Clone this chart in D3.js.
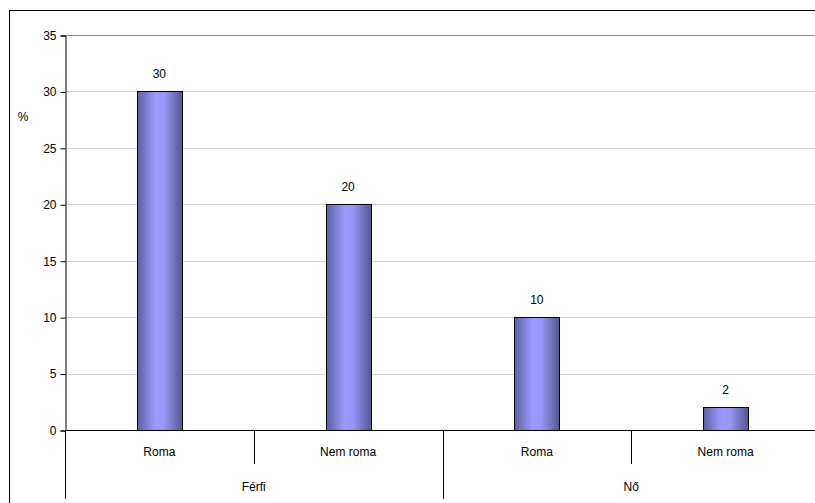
<!DOCTYPE html>
<html>
<head>
<meta charset="utf-8">
<script src="https://cdn.jsdelivr.net/npm/d3@7/dist/d3.min.js"></script>
<style>
  html, body { margin: 0; padding: 0; background: #fff; }
  svg { display: block; }
  text { font-family: "Liberation Sans", Arial, sans-serif; fill: #000; }
</style>
</head>
<body>
<svg id="chart" width="815" height="503"></svg>
<script>
// Data
const groups = ["Férfi", "Nő"];
const subCategories = ["Roma", "Nem roma"];
const values = [30, 20, 10, 2];          // Férfi: Roma, Nem roma; Nő: Roma, Nem roma
const yTicks = [0, 5, 10, 15, 20, 25, 30, 35];

const svg = d3.select("#chart");
const W = 815, H = 503;
const plot = { left: 65, right: 820, top: 35, bottom: 430 };

// Outer frame
svg.append("rect")
  .attr("x", 9.5).attr("y", 10.5)
  .attr("width", 830).attr("height", 520)
  .attr("fill", "#fff").attr("stroke", "#000").attr("stroke-width", 1);

// Gradient for bars
const defs = svg.append("defs");
const grad = defs.append("linearGradient")
  .attr("id", "barGrad").attr("x1", "0%").attr("x2", "100%").attr("y1", "0%").attr("y2", "0%");
grad.append("stop").attr("offset", "0%").attr("stop-color", "#5f5fa6");
grad.append("stop").attr("offset", "40%").attr("stop-color", "#9a9aff");
grad.append("stop").attr("offset", "60%").attr("stop-color", "#9696f5");
grad.append("stop").attr("offset", "100%").attr("stop-color", "#55558f");

// Scales
const cats = [];
groups.forEach(g => subCategories.forEach(s => cats.push(g + "|" + s)));
const x = d3.scaleBand().domain(cats).range([plot.left, plot.right]).paddingInner(0).paddingOuter(0);
const y = d3.scaleLinear().domain([0, 35]).range([plot.bottom, plot.top]);
const barW = 45;

// Gridlines
svg.append("g").selectAll("line")
  .data(yTicks.filter(t => t > 0))
  .join("line")
  .attr("x1", plot.left).attr("x2", plot.right)
  .attr("y1", d => Math.round(y(d)) + 0.5).attr("y2", d => Math.round(y(d)) + 0.5)
  .attr("stroke", d => d === 35 ? "#8c8c8c" : "#d4d4d4")
  .attr("stroke-width", 1);

// Y axis
const yAxis = d3.axisLeft(y).tickValues(yTicks).tickSize(5).tickPadding(4);
const yg = svg.append("g").attr("transform", `translate(${plot.left + 0.5},0.5)`).call(yAxis);
yg.select(".domain").attr("stroke", "#000");
yg.selectAll(".tick line").attr("stroke", "#000");
yg.selectAll(".tick text").attr("font-size", 12).attr("fill", "#000")
  .style("font-family", "'Liberation Sans', Arial, sans-serif");

// Y unit label
svg.append("text").attr("x", 23).attr("y", 121).attr("text-anchor", "middle")
  .attr("font-size", 12).text("%");

// Bars
const data = cats.map((c, i) => ({ key: c, value: values[i] }));
svg.append("g").selectAll("rect")
  .data(data)
  .join("rect")
  .attr("x", d => Math.round(x(d.key) + x.bandwidth() / 2 - barW / 2) + 0.5)
  .attr("y", d => Math.round(y(d.value)) + 0.5)
  .attr("width", barW)
  .attr("height", d => Math.round(y(0)) - Math.round(y(d.value)))
  .attr("fill", "url(#barGrad)")
  .attr("stroke", "#000").attr("stroke-width", 1);

// Value labels
svg.append("g").selectAll("text")
  .data(data)
  .join("text")
  .attr("x", d => x(d.key) + x.bandwidth() / 2)
  .attr("y", d => y(d.value) - 13)
  .attr("text-anchor", "middle").attr("font-size", 12)
  .text(d => d.value);

// X axis baseline
const xb = Math.round(y(0)) + 0.5;
svg.append("line").attr("x1", plot.left).attr("x2", plot.right)
  .attr("y1", xb).attr("y2", xb).attr("stroke", "#000");

// Category dividers: short between sub-categories, long between groups
cats.forEach((c, i) => {
  const xp = Math.round(x(c)) + 0.5;
  const isGroupStart = i % subCategories.length === 0;
  svg.append("line").attr("x1", xp).attr("x2", xp)
    .attr("y1", xb).attr("y2", isGroupStart ? 499 : 464)
    .attr("stroke", "#000");
});

// Sub-category labels
svg.append("g").selectAll("text")
  .data(data)
  .join("text")
  .attr("x", d => x(d.key) + x.bandwidth() / 2)
  .attr("y", 456)
  .attr("text-anchor", "middle").attr("font-size", 12)
  .text(d => d.key.split("|")[1]);

// Group labels
groups.forEach((g, gi) => {
  const first = x(g + "|" + subCategories[0]);
  const span = x.bandwidth() * subCategories.length;
  svg.append("text")
    .attr("x", first + span / 2).attr("y", 491)
    .attr("text-anchor", "middle").attr("font-size", 12)
    .text(g);
});
</script>
</body>
</html>
